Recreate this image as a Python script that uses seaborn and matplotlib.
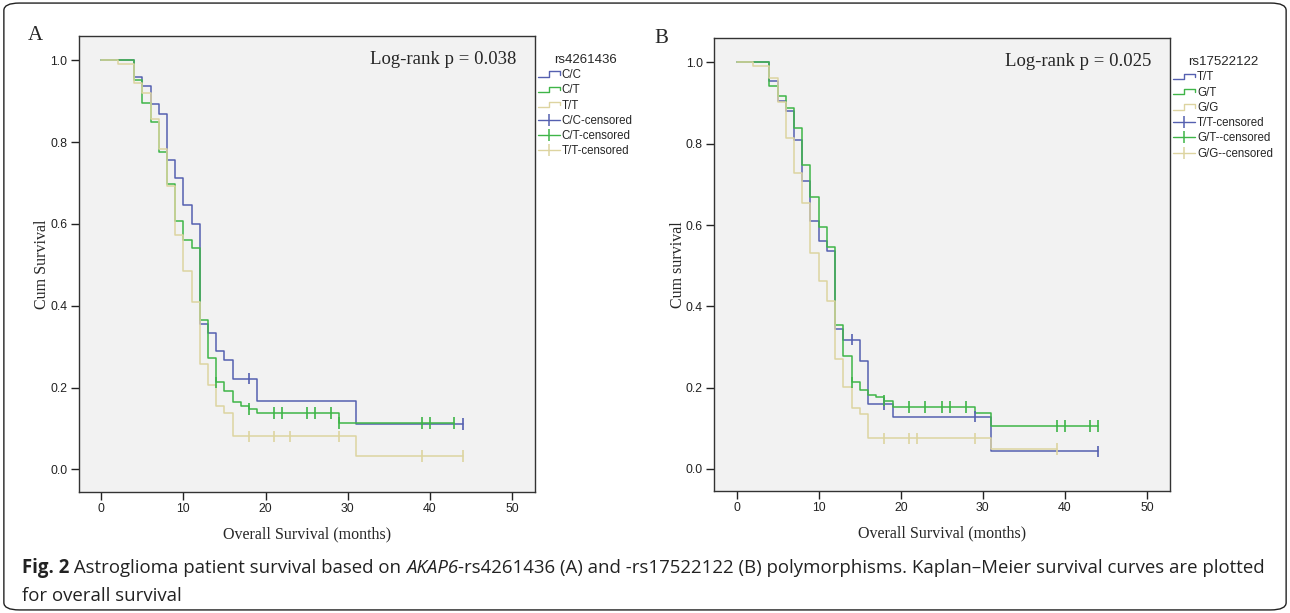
import numpy as np
import pandas as pd
import matplotlib
matplotlib.use("Agg")
import matplotlib.pyplot as plt
import seaborn as sns
from matplotlib.lines import Line2D
from matplotlib.legend_handler import HandlerBase
from matplotlib.patches import FancyBboxPatch

# Panel A: rs4261436 (Kaplan-Meier steps)
a_cc_t = [0, 4, 5, 6, 7, 8, 9, 10, 11, 12, 13, 14, 15, 16, 19, 31, 44]
a_cc_s = [1.0, 0.958, 0.936, 0.892, 0.869, 0.757, 0.713, 0.646, 0.601, 0.356, 0.333, 0.289, 0.267, 0.222, 0.167, 0.111, 0.111]
a_cc_c = [18, 44]
a_ct_t = [0, 4, 5, 6, 7, 8, 9, 10, 11, 12, 13, 14, 15, 16, 17, 18, 19, 29, 43]
a_ct_s = [1.0, 0.951, 0.896, 0.848, 0.775, 0.697, 0.607, 0.561, 0.540, 0.366, 0.273, 0.213, 0.191, 0.164, 0.156, 0.148, 0.138, 0.113, 0.113]
a_ct_c = [14, 18, 21, 22, 25, 26, 28, 29, 39, 40, 43]
a_tt_t = [0, 2, 4, 5, 6, 7, 8, 9, 10, 11, 12, 13, 14, 15, 16, 31, 44]
a_tt_s = [1.0, 0.99, 0.945, 0.921, 0.856, 0.782, 0.692, 0.574, 0.486, 0.409, 0.258, 0.207, 0.156, 0.138, 0.081, 0.033, 0.033]
a_tt_c = [18, 21, 23, 29, 39, 44]

# Panel B: rs17522122
b_tt_t = [0, 4, 5, 6, 7, 8, 9, 10, 11, 12, 13, 15, 16, 19, 31, 44]
b_tt_s = [1.0, 0.954, 0.905, 0.880, 0.808, 0.709, 0.611, 0.561, 0.537, 0.344, 0.318, 0.266, 0.160, 0.129, 0.043, 0.043]
b_tt_c = [14, 18, 29, 44]
b_gt_t = [0, 4, 5, 6, 7, 8, 9, 10, 11, 12, 13, 14, 15, 16, 17, 18, 19, 29, 31, 44]
b_gt_s = [1.0, 0.943, 0.918, 0.887, 0.838, 0.747, 0.668, 0.594, 0.545, 0.354, 0.279, 0.213, 0.194, 0.182, 0.176, 0.168, 0.152, 0.137, 0.106, 0.106]
b_gt_c = [14, 18, 21, 23, 25, 26, 28, 39, 40, 43, 44]
b_gg_t = [0, 2, 4, 5, 6, 7, 8, 9, 10, 11, 12, 13, 14, 15, 16, 31, 39]
b_gg_s = [1.0, 0.99, 0.962, 0.902, 0.813, 0.727, 0.653, 0.532, 0.463, 0.412, 0.270, 0.202, 0.149, 0.135, 0.075, 0.049, 0.049]
b_gg_c = [18, 21, 22, 29, 39]

a_groups = ["C/C", "C/T", "T/T"]
b_groups = ["T/T", "G/T", "G/G"]
a_legend = ["C/C", "C/T", "T/T", "C/C-censored", "C/T-censored", "T/T-censored"]
b_legend = ["T/T", "G/T", "G/G", "T/T-censored", "G/T--censored", "G/G--censored"]
colors = ["#5560b0", "#3fb548", "#ddd4a0"]

serif = ["Liberation Serif", "DejaVu Serif"]
sans = ["Liberation Sans", "DejaVu Sans"]


class StepHandler(HandlerBase):
    # legend symbol drawn as a small step, like SPSS
    def create_artists(self, legend, orig_handle, xdescent, ydescent,
                       width, height, fontsize, trans):
        x0 = -xdescent
        y0 = -ydescent
        xs = [x0, x0 + 0.5 * width, x0 + 0.5 * width, x0 + width, x0 + width]
        ys = [y0 + 0.15 * height, y0 + 0.15 * height, y0 + 0.85 * height,
              y0 + 0.85 * height, y0 + 0.4 * height]
        ln = Line2D(xs, ys, color=orig_handle.get_color(), lw=1.0)
        ln.set_transform(trans)
        return [ln]


def build_frames(times, survs, cens, names):
    rows, crow = [], []
    for t, s, c, n in zip(times, survs, cens, names):
        for ti, si in zip(t, s):
            rows.append((ti, si, n))
        for ci in c:
            idx = np.searchsorted(t, ci, side="right") - 1
            crow.append((ci, s[idx], n))
    df = pd.DataFrame(rows, columns=["time", "surv", "group"])
    dc = pd.DataFrame(crow, columns=["time", "surv", "group"])
    return df, dc


def draw_panel(ax, df, dc, names, leg_labels, title, pval, ylab, letter, letter_x):
    pal = dict(zip(names, colors))
    ax.set_facecolor("#f2f2f2")
    sns.lineplot(data=df, x="time", y="surv", hue="group", hue_order=names,
                 palette=pal, estimator=None, drawstyle="steps-post",
                 linewidth=1.1, legend=False, ax=ax)
    sns.scatterplot(data=dc, x="time", y="surv", hue="group", hue_order=names,
                    palette=pal, marker="|", s=70, linewidth=1.2,
                    legend=False, ax=ax, zorder=3)
    ax.set_xlim(-2.75, 52.8)
    ax.set_ylim(-0.055, 1.06)
    ax.set_xticks([0, 10, 20, 30, 40, 50])
    ax.set_yticks([0.0, 0.2, 0.4, 0.6, 0.8, 1.0])
    ax.set_yticklabels(["0.0", "0.2", "0.4", "0.6", "0.8", "1.0"])
    ax.tick_params(bottom=True, left=True, direction="out", length=6, width=1,
                   pad=2, colors="#222222", labelsize=8.8)
    for lab in ax.get_xticklabels() + ax.get_yticklabels():
        lab.set_family(sans)
    for sp in ax.spines.values():
        sp.set_color("#333333")
        sp.set_linewidth(1.0)
    ax.set_xlabel("Overall Survival (months)", family=serif, fontsize=11.5,
                  labelpad=8)
    ax.set_ylabel(ylab, family=serif, fontsize=11.5, labelpad=0)
    ax.text(0.959, 0.948, pval, transform=ax.transAxes, ha="right", va="center",
            family=serif, fontsize=13.5)
    ax.text(letter_x, 1.0, letter, transform=ax.transAxes, ha="left",
            va="center", family=serif, fontsize=15)

    handles = [Line2D([], [], color=c) for c in colors]
    handles += [Line2D([0], [0], color=c, lw=1.0, marker="|", markersize=9,
                       markeredgewidth=1.1) for c in colors]
    hmap = {h: StepHandler() for h in handles[:3]}
    leg = ax.legend(handles, leg_labels, handler_map=hmap, loc="upper left",
                    bbox_to_anchor=(0.997, 0.97), frameon=False, title=title,
                    prop={"family": sans, "size": 8.3}, handlelength=1.85,
                    handletextpad=0.2, labelspacing=0.28, borderaxespad=0.2,
                    borderpad=0.2)
    leg.get_title().set_family(sans)
    leg.get_title().set_fontsize(9.5)


sns.set_style("white")
fig = plt.figure(figsize=(12.9, 6.13), dpi=100)
ax_a = fig.add_axes([0.0610, 0.1974, 0.3537, 0.7444])
ax_b = fig.add_axes([0.5535, 0.1985, 0.3535, 0.7395])

df_a, dc_a = build_frames([a_cc_t, a_ct_t, a_tt_t], [a_cc_s, a_ct_s, a_tt_s],
                          [a_cc_c, a_ct_c, a_tt_c], a_groups)
df_b, dc_b = build_frames([b_tt_t, b_gt_t, b_gg_t], [b_tt_s, b_gt_s, b_gg_s],
                          [b_tt_c, b_gt_c, b_gg_c], b_groups)

draw_panel(ax_a, df_a, dc_a, a_groups, a_legend, "rs4261436",
           "Log-rank p = 0.038", "Cum Survival", "A", -0.111)
draw_panel(ax_b, df_b, dc_b, b_groups, b_legend, "rs17522122",
           "Log-rank p = 0.025", "Cum survival", "B", -0.13)

# rounded frame around the whole figure
fig.patches.append(FancyBboxPatch((0.003, 0.005), 0.994, 0.99,
                                  boxstyle="round,pad=0,rounding_size=0.012",
                                  transform=fig.transFigure, fill=False,
                                  edgecolor="#222222", linewidth=1.0))

# caption, built from pieces so the bold/italic parts sit inline
cap_font = ["Open Sans", "DejaVu Sans"]
cap_size = 13.4
pieces = [("Fig. 2", "bold", "normal"),
          (" Astroglioma patient survival based on ", "normal", "normal"),
          ("AKAP6", "normal", "italic"),
          ("-rs4261436 (A) and -rs17522122 (B) polymorphisms. Kaplan\u2013Meier survival curves are plotted",
           "normal", "normal")]
fig.canvas.draw()
renderer = fig.canvas.get_renderer()
x = 22
y1 = 613 - 568
for txt, wt, st in pieces:
    t = fig.text(x / 1290, y1 / 613, txt, family=cap_font, fontsize=cap_size,
                 weight=wt, style=st, ha="left", va="center", color="#222222")
    x = t.get_window_extent(renderer).x1
fig.text(22 / 1290, (613 - 596) / 613, "for overall survival", family=cap_font,
         fontsize=cap_size, ha="left", va="center", color="#222222")

fig.savefig("out.png", dpi=100, facecolor="white")
